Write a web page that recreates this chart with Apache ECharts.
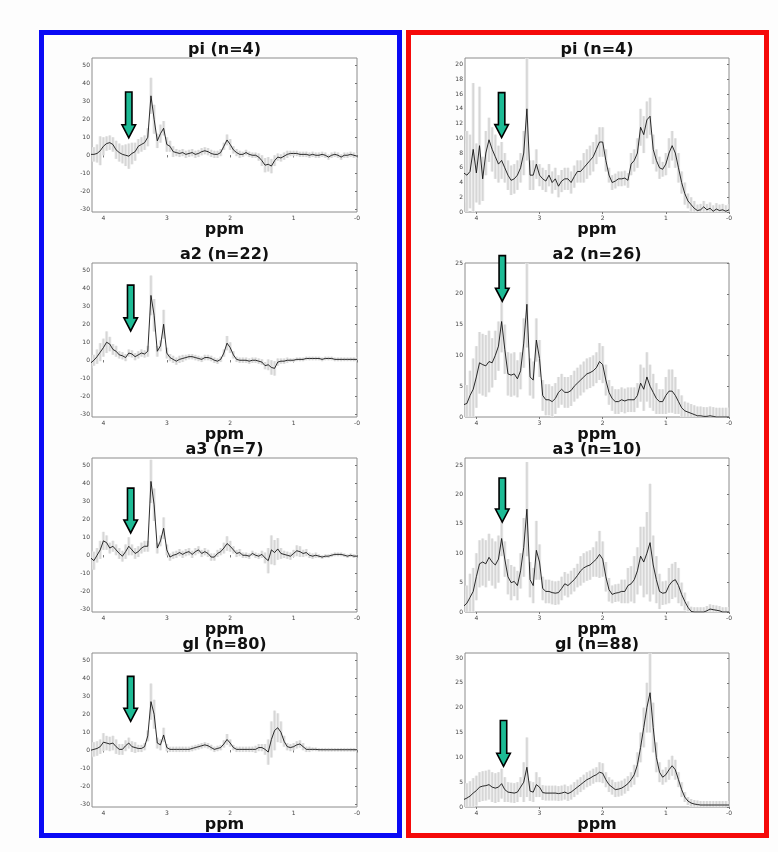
<!DOCTYPE html>
<html><head><meta charset="utf-8">
<script src="https://cdn.jsdelivr.net/npm/echarts@6/dist/echarts.min.js"></script>
<style>html,body{margin:0;padding:0;background:#fff}#c{width:778px;height:852px}</style>
</head><body><div id="c"></div>
<script>
// chemical shift grid (ppm), shared by all panels
const ppm = [4.2,4.15,4.1,4.05,4,3.95,3.9,3.85,3.8,3.75,
3.7,3.65,3.6,3.55,3.5,3.45,3.4,3.35,3.3,3.25,
3.2,3.15,3.1,3.05,3,2.95,2.9,2.85,2.8,2.75,
2.7,2.65,2.6,2.55,2.5,2.45,2.4,2.35,2.3,2.25,
2.2,2.15,2.1,2.05,2,1.95,1.9,1.85,1.8,1.75,
1.7,1.65,1.6,1.55,1.5,1.45,1.4,1.35,1.3,1.25,
1.2,1.15,1.1,1.05,1,0.95,0.9,0.85,0.8,0.75,
0.7,0.65,0.6,0.55,0.5,0.45,0.4,0.35,0.3,0.25,
0.2,0.15,0.1,0.05,0];

const titlesLeft = ['pi (n=4)', 'a2 (n=22)', 'a3 (n=7)', 'gl (n=80)'];
const titlesRight = ['pi (n=4)', 'a2 (n=26)', 'a3 (n=10)', 'gl (n=88)'];
const xTicks = [4, 3, 2, 1, 0];
const yTicksLeft = [-30, -20, -10, 0, 10, 20, 30, 40, 50];
const yTicksR1 = [0, 2, 4, 6, 8, 10, 12, 14, 16, 18, 20];
const yTicksR2 = [0, 5, 10, 15, 20, 25];
const yTicksR3 = [0, 5, 10, 15, 20, 25];
const yTicksR4 = [0, 5, 10, 15, 20, 25, 30];
const yRangeLeft = [-31.5, 54];
const yRangeR1 = [0, 20.9];
const yRangeR2 = [0, 25];
const yRangeR3 = [0, 26.2];
const yRangeR4 = [0, 31];

// mean spectra
const L1_mean = [0.5,0.5,1,2.5,5,6.5,7,6,3,1.5,
0.5,0,-0.5,1,2,5,6,7,10,33,
20,8,12,15,6,5,2,1.5,1,1.5,
0.5,1,1.5,0.5,1,2,2.5,2,1,0.5,
0.5,1.5,5,8.5,6,3,1.5,0.5,0.5,1.5,
0.5,0,0,-1,-3,-5.5,-5,-6,-3,-1,
-1.5,-0.5,0.5,1,1,1,0.5,0.5,0.5,0,
0.5,0,0,0.5,0,-1,0,0.5,0,-1,
0,0,0.5,0,-0.5];
const L2_mean = [-1.5,0,2,4.5,7,10,9,6,5,3,
2.5,1.5,4,3.5,2,3,4,3.5,5,36,
25,5,8,20,4,1.5,0.5,-0.5,0.5,1,
1.5,2,2,1.5,1,0.5,1.5,1.5,1,0,
-0.5,0.5,4,9.5,7,3,0.5,0,0,0,
-0.5,0,0,-0.5,-1,-3,-2.5,-4,-4.5,-1,
-0.5,-0.5,0,0,0,0.5,0.5,0.5,1,1,
1,1,1,0.5,1,1,1,0.5,0.5,0.5,
0.5,0.5,0.5,0.5,0.5];
const L3_mean = [-1.5,-3,0,3,8,7,4,5,3,1,
-0.5,2,5,3,1,2,4,5,5,41,
28,4,8,15,3,-1,0,0.5,1.5,0.5,
1.5,2,0.5,2,3,1,2,1,-1,-1,
1,2,4,6.5,5,3,1,1.5,0,0,
-0.5,1,0,-0.5,0.5,-1.5,-3,3,1.5,3.5,
1,0.5,0,-0.5,1,2.5,2,1,1.5,0,
-0.5,0,-0.5,-1,-0.5,-0.5,0,0.5,0.5,0.5,
0,-0.5,0,-0.5,-0.5];
const L4_mean = [0,0.5,1,2,4.5,4,3.5,4,2,0.5,
0.5,2.5,4,2,1.5,1,1,2,8,27,
20,4,3,8.5,1.5,0.5,0.5,0.5,0.5,0.5,
0.5,0.5,1,1.5,2,2.5,3,2.5,1.5,0.5,
1,1.5,3.5,6,4,1.5,0.5,0.5,0.5,0.5,
0.5,0.5,0.5,1.5,1.5,0.5,-1,6,11,12.5,
10,5,2,1.5,2,3,3.5,2,0.5,0.5,
0.5,0.5,0.3,0.3,0.3,0.3,0.3,0.3,0.3,0.3,
0.3,0.3,0.3,0.3,0.3];
const R1_mean = [5.3,5,5.5,8.5,5.3,9,4.5,8,9.8,8.5,
7.5,6.5,7,6,5,4.3,4.5,5,6,8,
14,5,5,6.5,5,4.5,4.2,5,4,4.5,
3.5,4.2,4.5,4.5,4,4.8,5.5,5.5,6,6.5,
7,7.5,8.5,9.5,9.5,7,5,4,4.2,4.5,
4.5,4.6,4.3,6.5,7,8,11.5,10.5,12.5,13,
8.5,7,6,5.8,6.5,8,9,8,6,4,
2.5,1.5,1,0.5,0.2,0.3,0.7,0.3,0.5,0.1,
0.4,0.2,0.3,0.1,0.3];
const R2_mean = [2,2.2,3.5,4.5,6.5,8.8,8.5,8.3,9,8.8,
10,11.5,15.5,11,7,6.8,7,6.2,7.5,12,
18.3,6.5,6,12.5,9.5,3.5,2.8,2.8,2.5,3,
4,4.5,4,4,4.3,5,5.5,6,6.5,7,
7.2,7.5,8,9,8.5,6,4,3,2.5,2.5,
2.8,2.6,2.8,2.8,2.8,3.5,5.5,4.5,6.5,5,
4,3,2.5,2.5,3.5,4.2,4.2,3.5,2.5,1.5,
1,0.8,0.6,0.4,0.2,0.2,0.1,0.1,0.2,0.1,
0,0,0,0,0];
const R3_mean = [1,1.5,2.5,3.5,6,8.2,8.5,8.2,9.3,8.5,
8,9,12.5,9,6,5,5.2,4.5,7,11,
17.5,5.5,4.5,10.5,8.5,4,3.5,3.5,3.3,3.2,
3.3,4,4.8,4.5,5,5.5,6.2,7,7.5,7.8,
8,8.5,9,9.8,9,6,3.8,3,3.2,3.3,
3.5,3.5,4.5,4.8,5.5,7,9.5,8.5,10,11.8,
8,5.5,3.5,3.2,3.3,4.5,5.2,5.5,4.5,3,
1.8,0.8,0.1,0,0,0,0,0.2,0.5,0.4,
0.3,0.2,0,0,0];
const R4_mean = [1.5,1.8,2.2,2.8,3.3,4,4.2,4.3,4.5,4,
3.8,4,4.7,3.5,3,2.9,2.8,3,4,5,
8,3.2,3,4.5,4,2.9,2.8,2.8,2.8,2.8,
2.7,2.8,3,2.7,3,3.5,4,4.5,5,5.5,
5.8,6.2,6.5,7,6.8,5.5,4.5,4,3.5,3.6,
3.8,4.2,4.7,5.5,6.5,8.5,12,16,20,23,
16,10,7,6,6.5,7.5,8.3,7.5,5.5,3.5,
2,1.2,0.8,0.6,0.5,0.4,0.4,0.4,0.4,0.4,
0.4,0.4,0.4,0.4,0.4];

// standard deviations (half-width of the grey band)
const L1_sd = [4,4,5,8,5,4,4,4,5,5,
5,6,7,6,5,4,4,4,5,10,
8,4,5,4,4,3,3,2,2,2,
2,2,2,2,2,2,2,2,2,2,
2,2,2,3,3,2,2,2,1.5,1.5,
1.5,1.5,1.5,2,3,4,4,4,3,2,
2,2,2,1.5,1.5,1.5,1.5,1.5,1.5,1.5,
1.5,1.5,1.5,1.5,1.5,1.5,1.5,1.5,1.5,1.5,
1.5,1.5,1.5,1.5,1.5];
const L2_sd = [3,3,4,5,5,6,4,3,3,2,
2,2,2,2,2,2,2,2,3,11,
9,3,3,8,3,2,2,2,2,2,
1.5,1.5,1.5,1.5,1.5,1.5,1.5,1.5,1.5,1.5,
1.5,1.5,2,4,3,2,1.5,1.5,1.5,1.5,
1.5,1.5,1.5,1.5,1.5,2,3,4,4,2,
1.5,1.5,1.5,1,1,1,1,1,1,1,
1,1,1,1,1,1,1,1,1,1,
1,1,1,1,1];
const L3_sd = [4,5,4,5,5,4,3,3,3,3,
3,4,5,3,3,3,3,3,3,12,
9,3,3,6,3,2,2,2,2,2,
2,2,2,2,2,2,2,2,2,2,
2,2,3,4,3,2,2,2,1.5,1.5,
1.5,1.5,1.5,1.5,2,3,7,8,7,6,
3,2,2,2,2,3,3,2,2,1.5,
1.5,1.5,1,1,1,1,1,1,1,1,
1,1,1,1,1];
const L4_sd = [4,4,4,4,5,4,4,4,4,3,
3,3,3,3,3,2,2,2,3,10,
8,3,3,4,2,1.5,1.5,1.5,1.5,1.5,
1.5,1.5,1.5,1.5,1.5,1.5,1.5,1.5,1.5,1.5,
1.5,1.5,2,3,2,1.5,1.5,1.5,1.5,1.5,
1.5,1.5,2,2,2,3,7,10,11,8,
6,3,2,2,2,2,2,2,1.5,1.5,
1,1,1,1,1,1,1,1,1,1,
1,1,1,1,1];
const R1_sd = [4,6,5,9,4,8,3,3,3,3,
3,2.5,2.5,2,2,2,2,2,2,3,
7,2,2,2,1.5,1.5,1.5,1.5,1.5,1.5,
1.5,1.5,1.5,1.5,1.5,1.5,1.5,1.5,2,2,
2,2,2,2,2,1.5,1,1,1,1,
1,1,1,1.5,1.5,2,2.5,2.5,2.5,2.5,
2,1.5,1.5,1,1.5,2,2,2,2,1.5,
1.5,1,1,1,0.8,0.8,0.8,0.8,0.8,0.8,
0.8,0.8,0.8,0.8,0.8];
const R2_sd = [2,3,4,5,5,5,5,5,5,4,
4,4,5,4,3.5,3.5,3.5,3,3,4,
7,3,3,3.5,3,2.5,2.5,2.5,2.5,2.5,
2.5,2.5,2.5,2.5,2.5,2.5,2.5,2.5,2.5,2.5,
2.5,2.5,2.5,3,3,2.5,2,2,2,2,
2,2,2,2,2,2,3,3.5,4,3.5,
3,2.5,2,2,3,3.5,3.5,3,2,2,
1.5,1.5,1.5,1.5,1.5,1.5,1.5,1.5,1.5,1.5,
1.5,1.5,1.5,1.5,1.5];
const R3_sd = [2,3,4,4,4,4,4,4,4,4,
4,4,3,3,3,3,2.5,2.5,3,5,
8,3,3,5,3,2,2,2,2,2,
2,2,2,2,2,2,2,2.5,2.5,2.5,
2.5,2.5,3,4,3,2.5,2,1.5,1.5,1.5,
2,2,3,3,4,4,5,6,7,10,
5,4,3,2,2,3,3,3,3,2,
1.5,1,0.8,0.8,0.8,0.8,0.8,0.8,0.8,0.8,
0.8,0.8,0.8,0.8,0.8];
const R4_sd = [2,3,3,3,3,3,3,3,3,3,
3,3,3,2.5,2,2,2,2,2,4,
6,2,2,2.5,2,1.5,1.5,1.5,1.5,1.5,
1.5,1.5,1.5,1.5,1.5,1.5,1.5,1.5,1.5,1.5,
1.5,1.5,1.5,2,2,1.5,1.5,1.5,1.5,1.5,
1.5,1.5,1.5,1.5,2,2.5,3,4,5,8,
5,3,2,1.5,1.5,2,2,2,1.5,1.5,
1,0.8,0.8,0.8,0.8,0.8,0.8,0.8,0.8,0.8,
0.8,0.8,0.8,0.8,0.8];

// arrows: [ppm, tip value, tail value]
const arrowL1 = [3.60, 9.7, 35.1];
const arrowL2 = [3.57, 16.3, 41.7];
const arrowL3 = [3.57, 12.4, 37.3];
const arrowL4 = [3.57, 16.1, 41];
const arrowR1 = [3.60, 10.1, 16.2];
const arrowR2 = [3.59, 18.8, 26.2];
const arrowR3 = [3.59, 15.3, 22.8];
const arrowR4 = [3.57, 8.2, 17.4];

const panels = [
  {t: titlesLeft[0], m: L1_mean, s: L1_sd, a: arrowL1, col: 0, row: 0, yr: yRangeLeft, yt: yTicksLeft},
  {t: titlesLeft[1], m: L2_mean, s: L2_sd, a: arrowL2, col: 0, row: 1, yr: yRangeLeft, yt: yTicksLeft},
  {t: titlesLeft[2], m: L3_mean, s: L3_sd, a: arrowL3, col: 0, row: 2, yr: yRangeLeft, yt: yTicksLeft},
  {t: titlesLeft[3], m: L4_mean, s: L4_sd, a: arrowL4, col: 0, row: 3, yr: yRangeLeft, yt: yTicksLeft},
  {t: titlesRight[0], m: R1_mean, s: R1_sd, a: arrowR1, col: 1, row: 0, yr: yRangeR1, yt: yTicksR1},
  {t: titlesRight[1], m: R2_mean, s: R2_sd, a: arrowR2, col: 1, row: 1, yr: yRangeR2, yt: yTicksR2},
  {t: titlesRight[2], m: R3_mean, s: R3_sd, a: arrowR3, col: 1, row: 2, yr: yRangeR3, yt: yTicksR3},
  {t: titlesRight[3], m: R4_mean, s: R4_sd, a: arrowR4, col: 1, row: 3, yr: yRangeR4, yt: yTicksR4}
];

const FONT = 'DejaVu Sans, Liberation Sans, sans-serif';
const gridLeft = [92, 465];
const gridWidth = [265, 264];
const rowTop = [58, 263, 458, 653];
const gridHeight = 154;

const grid = [], xAxis = [], yAxis = [], series = [], graphic = [];

graphic.push({type: 'rect', shape: {x: 41.5, y: 32.5, width: 358, height: 803}, style: {fill: 'none', stroke: '#0a0af5', lineWidth: 5}, z: 1});
graphic.push({type: 'rect', shape: {x: 408.5, y: 32.5, width: 358, height: 803}, style: {fill: 'none', stroke: '#f50a0a', lineWidth: 5}, z: 1});

function clipTo(r, cs) {
  return echarts.graphic.clipRectByRect(r, {x: cs.x, y: cs.y, width: cs.width, height: cs.height});
}
function bandRender(params, api) {
  const p = api.value(0), lo = api.value(1), hi = api.value(2);
  const a = api.coord([p + 0.026, hi]);
  const b = api.coord([p - 0.026, lo]);
  const c = api.coord([p, hi]);
  const cs = params.coordSys;
  const wide = clipTo({x: Math.min(a[0], b[0]), y: Math.min(a[1], b[1]), width: Math.abs(b[0] - a[0]), height: Math.abs(b[1] - a[1])}, cs);
  const thin = clipTo({x: c[0] - 0.8, y: Math.min(a[1], b[1]), width: 1.6, height: Math.abs(b[1] - a[1])}, cs);
  const children = [];
  if (wide) children.push({type: 'rect', shape: wide, style: {fill: '#ececec'}});
  if (thin) children.push({type: 'rect', shape: thin, style: {fill: '#d6d6d6'}});
  return {type: 'group', children: children};
}
function arrowRender(params, api) {
  const p = api.value(0);
  const tip = api.coord([p, api.value(1)]);
  const tail = api.coord([p, api.value(2)]);
  const x = tip[0], yt = tip[1], y0 = tail[1];
  const sw = 3.2, hw = 6.8, hl = 13;
  return {type: 'polygon', shape: {points: [[x - sw, y0], [x + sw, y0], [x + sw, yt - hl], [x + hw, yt - hl], [x, yt], [x - hw, yt - hl], [x - sw, yt - hl]]},
    style: {fill: '#1dbb95', stroke: '#000', lineWidth: 1.6}};
}

panels.forEach((P, k) => {
  const left = gridLeft[P.col], w = gridWidth[P.col], top = rowTop[P.row];
  grid.push({left: left, top: top, width: w, height: gridHeight, show: true, backgroundColor: '#ffffff', borderColor: '#8c8c8c', borderWidth: 1});
  graphic.push({type: 'text', x: left + w / 2, y: top - 8, z: 5,
    style: {text: P.t, font: 'bold 16px ' + FONT, fill: '#111', align: 'center', verticalAlign: 'middle'}});
  xAxis.push({type: 'value', gridIndex: k, min: 0, max: 4.18, inverse: true, position: 'bottom',
    name: 'ppm', nameLocation: 'middle', nameGap: -1,
    nameTextStyle: {fontSize: 16, fontWeight: 'bold', fontFamily: FONT, color: '#111'},
    axisLine: {show: false}, splitLine: {show: false},
    axisTick: {show: true, inside: false, length: 2, customValues: xTicks, lineStyle: {color: '#777'}},
    axisLabel: {show: true, fontSize: 6, color: '#444', fontFamily: FONT, margin: 3, customValues: xTicks,
      formatter: v => (v === 0 ? '-0' : String(v))}});
  yAxis.push({type: 'value', gridIndex: k, min: P.yr[0], max: P.yr[1], position: 'left',
    axisLine: {show: false}, splitLine: {show: false},
    axisTick: {show: true, inside: false, length: 2, customValues: P.yt, lineStyle: {color: '#777'}},
    axisLabel: {show: true, fontSize: 6, color: '#444', fontFamily: FONT, margin: 2, customValues: P.yt}});
  series.push({type: 'custom', xAxisIndex: k, yAxisIndex: k, renderItem: bandRender, clip: true, z: 2,
    data: ppm.map((p, i) => [p, P.m[i] - P.s[i], P.m[i] + P.s[i]]), encode: {x: 0, y: [1, 2]}, silent: true});
  series.push({type: 'line', xAxisIndex: k, yAxisIndex: k, showSymbol: false, symbol: 'none', clip: true, z: 3,
    lineStyle: {color: '#141414', width: 0.9}, data: ppm.map((p, i) => [p, P.m[i]]), silent: true});
  series.push({type: 'custom', xAxisIndex: k, yAxisIndex: k, renderItem: arrowRender, clip: false, z: 10,
    data: [P.a], encode: {x: 0, y: [1, 2]}, silent: true});
});
// top and right tick-only axes (box ticks)
panels.forEach((P, k) => {
  xAxis.push({type: 'value', gridIndex: k, min: 0, max: 4.18, inverse: true, position: 'top',
    axisLine: {show: false}, splitLine: {show: false}, axisLabel: {show: false},
    axisTick: {show: true, inside: true, length: 2, customValues: xTicks, lineStyle: {color: '#777'}}});
  yAxis.push({type: 'value', gridIndex: k, min: P.yr[0], max: P.yr[1], position: 'right',
    axisLine: {show: false}, splitLine: {show: false}, axisLabel: {show: false},
    axisTick: {show: true, inside: true, length: 2, customValues: P.yt, lineStyle: {color: '#777'}}});
});

const chart = echarts.init(document.getElementById('c'), null, {renderer: 'canvas'});
chart.setOption({
  backgroundColor: '#fdfdfd',
  animation: false,
  grid: grid, xAxis: xAxis, yAxis: yAxis, series: series, graphic: graphic
});
</script></body></html>
